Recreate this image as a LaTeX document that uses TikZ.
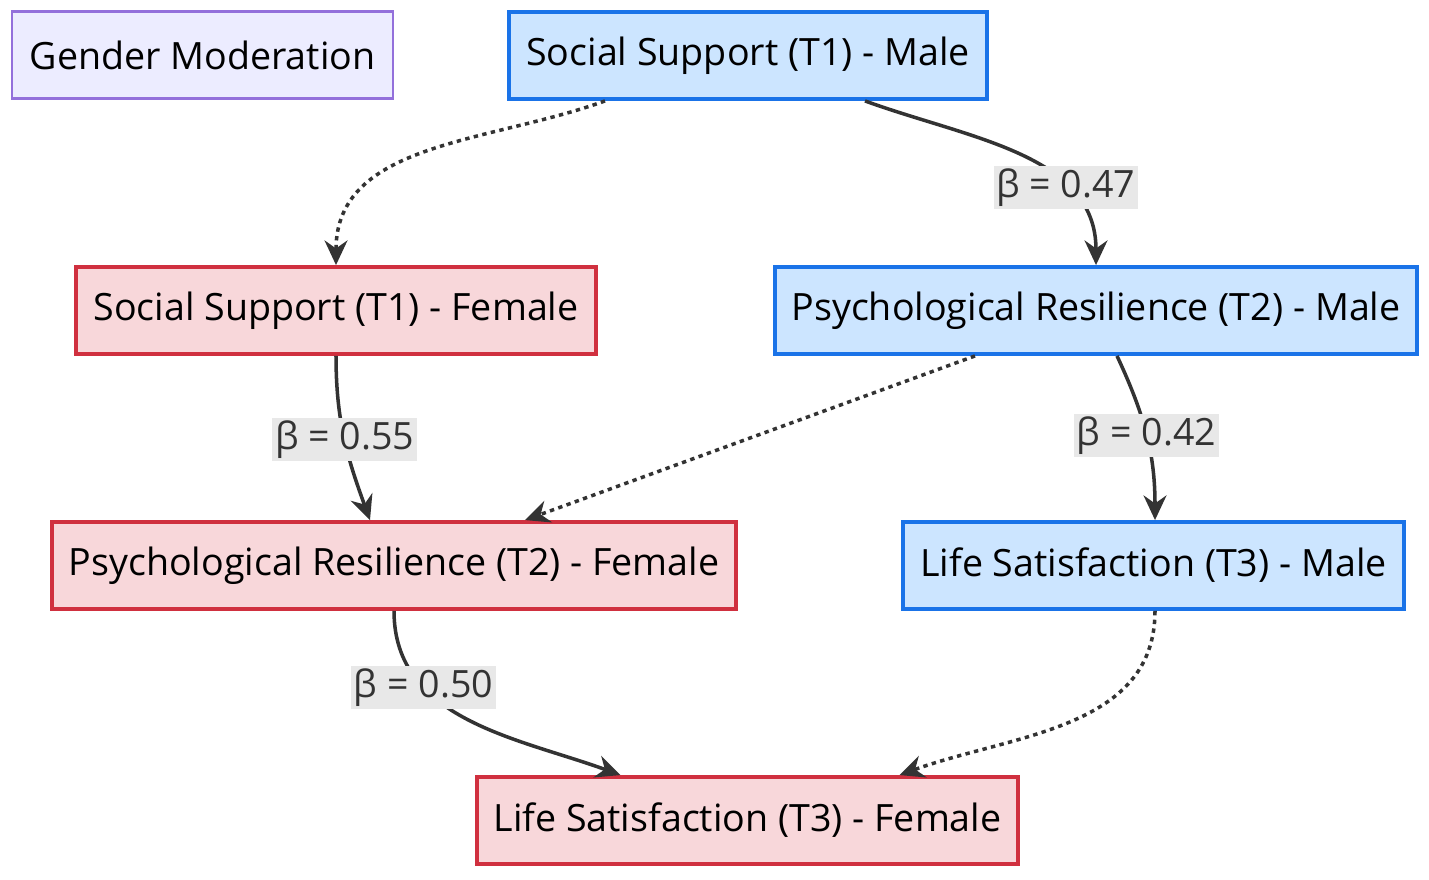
\documentclass[tikz,border=0pt]{standalone}
\usepackage{fontspec}
\setmainfont{Open Sans}
\usepackage{tikz}
\usetikzlibrary{arrows.meta,shapes,calc,positioning}
\definecolor{maleFill}{HTML}{CCE5FF}
\definecolor{maleLine}{HTML}{1A73E8}
\definecolor{femFill}{HTML}{F8D7DA}
\definecolor{femLine}{HTML}{D0303F}
\definecolor{noteFill}{HTML}{ECECFF}
\definecolor{noteLine}{HTML}{9370DB}
\definecolor{lblFill}{HTML}{E8E8E8}
\tikzstyle{box}   =[draw, line width=2.2pt, minimum height=1.74cm,
                    inner sep=0pt, font=\fontsize{21.4}{24}\selectfont]
\tikzstyle{male}  =[box, fill=maleFill, draw=maleLine]
\tikzstyle{female}=[box, fill=femFill, draw=femLine]
\tikzstyle{edge}  =[line width=2pt, draw=black!80,
                    -{Stealth[length=14pt,width=13pt]}]
\tikzstyle{dotted edge}=[edge, dash pattern=on 2.5pt off 2.5pt]
\tikzstyle{beta}  =[fill=lblFill, inner sep=1.5pt, text=black!80,
                    font=\fontsize{21.4}{24}\selectfont]

\begin{document}
\begin{tikzpicture}[x=0.02cm,y=-0.02cm]
    \useasboundingbox (0,0) rectangle (1429,879);

    \node (note) [box, fill=noteFill, draw=noteLine, line width=1.2pt,
                  minimum width=7.62cm] at (202.5,55) {Gender Moderation};
    \node (ssm) [male, minimum width=9.56cm] at (748,55.5) {Social Support (T1) - Male};
    \node (ssf) [female, minimum width=10.4cm] at (336,310.5) {Social Support (T1) - Female};
    \node (prm) [male, minimum width=12.84cm] at (1096,310.5) {Psychological Resilience (T2) - Male};
    \node (prf) [female, minimum width=13.68cm] at (394,565.5) {Psychological Resilience (T2) - Female};
    \node (lsm) [male, minimum width=10.02cm] at (1153.5,565.5) {Life Satisfaction (T3) - Male};
    \node (lsf) [female, minimum width=10.82cm] at (747.5,820.5) {Life Satisfaction (T3) - Female};

    % male paths
    \draw [edge] ($(ssm.south)+(117,0)$) to[out=-20,in=90] node[beta, pos=0.7] {β = 0.47} (prm.north);
    \draw [edge] ($(prm.south)+(21,0)$) to[out=-65,in=90] node[beta, pos=0.5] {β = 0.42} ($(lsm.north)+(1.5,0)$);
    % female paths
    \draw [edge] (ssf.south) to[out=-90,in=110] node[beta, pos=0.5] {β = 0.55} ($(prf.north)+(-24,0)$);
    \draw [edge] (prf.south) to[out=-90,in=160] node[beta, pos=0.3] {β = 0.50} ($(lsf.north)+(-127,0)$);
    % cross-group
    \draw [dotted edge] ($(ssm.south)+(-143,0)$) to[out=200,in=90] (ssf.north);
    \draw [dotted edge] ($(prm.south)+(-121,0)$) -- ($(prf.north)+(131,0)$);
    \draw [dotted edge] ($(lsm.south)+(1.5,0)$) to[out=-90,in=20] ($(lsf.north)+(152,0)$);
\end{tikzpicture}
\end{document}
